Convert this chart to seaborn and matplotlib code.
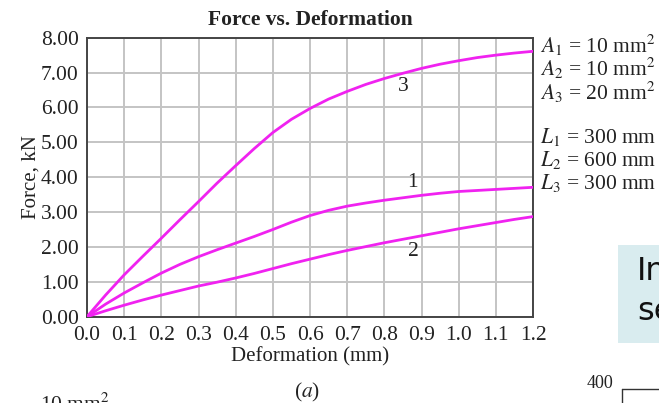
import matplotlib
matplotlib.use("Agg")
import matplotlib.pyplot as plt
import seaborn as sns
import pandas as pd
from matplotlib.patches import Rectangle

# ---- data ----
deformation = [0.0, 0.05, 0.1, 0.15, 0.2, 0.25, 0.3, 0.35, 0.4, 0.45, 0.5, 0.55,
               0.6, 0.65, 0.7, 0.75, 0.8, 0.85, 0.9, 0.95, 1.0, 1.05, 1.1, 1.15, 1.2]
force_1 = [0.0, 0.36, 0.68, 0.97, 1.25, 1.50, 1.72, 1.92, 2.11, 2.30, 2.50, 2.71,
           2.90, 3.05, 3.17, 3.26, 3.34, 3.41, 3.48, 3.54, 3.59, 3.62, 3.65, 3.68, 3.71]
force_2 = [0.0, 0.17, 0.33, 0.48, 0.62, 0.75, 0.88, 0.99, 1.11, 1.24, 1.38, 1.52,
           1.65, 1.78, 1.90, 2.01, 2.12, 2.22, 2.32, 2.42, 2.52, 2.61, 2.70, 2.79, 2.87]
force_3 = [0.0, 0.62, 1.20, 1.73, 2.25, 2.78, 3.30, 3.83, 4.33, 4.82, 5.28, 5.66,
           5.97, 6.24, 6.46, 6.66, 6.83, 6.98, 7.12, 7.24, 7.34, 7.43, 7.50, 7.56, 7.61]
curve_names = ["1", "2", "3"]
label_pos_x = [0.875, 0.878, 0.85]
label_pos_y = [3.86, 1.88, 6.6]
x_ticks = [0.0, 0.1, 0.2, 0.3, 0.4, 0.5, 0.6, 0.7, 0.8, 0.9, 1.0, 1.1, 1.2]
y_ticks = [0, 1, 2, 3, 4, 5, 6, 7, 8]
side_notes = ["$A_1$ = 10 mm$^2$", "$A_2$ = 10 mm$^2$", "$A_3$ = 20 mm$^2$",
              "$L_1$ = 300 mm", "$L_2$ = 600 mm", "$L_3$ = 300 mm"]

df = pd.concat([
    pd.DataFrame({"Deformation": deformation, "Force": f, "curve": n})
    for f, n in zip([force_1, force_2, force_3], curve_names)
], ignore_index=True)

sns.set_style("white")
plt.rcParams["font.family"] = ["Liberation Serif", "DejaVu Serif"]
plt.rcParams["mathtext.fontset"] = "stix"

W, H = 659, 403
fig = plt.figure(figsize=(W / 100, H / 100), dpi=100)
ax = fig.add_axes([87 / W, 1 - 316.7 / H, (533 - 87) / W, (316.7 - 37.7) / H])

sns.lineplot(data=df, x="Deformation", y="Force", hue="curve",
             palette=["#f022f0"] * 3, estimator=None, sort=False,
             legend=False, linewidth=2.0, ax=ax, zorder=3)

ax.set_xlim(0, 1.2)
ax.set_ylim(0, 8)
ax.set_xticks(x_ticks)
ax.set_xticklabels([f"{v:.1f}" for v in x_ticks])
ax.set_yticks(y_ticks)
ax.set_yticklabels([f"{v:.2f}" for v in y_ticks])
ax.grid(True, color="#c4c4c4", linewidth=1.4)
ax.set_axisbelow(True)
for s in ax.spines.values():
    s.set_visible(True)
    s.set_color("#444444")
    s.set_linewidth(1.4)
ax.tick_params(length=0, labelsize=15.5, colors="#222222")
ax.tick_params(axis="x", pad=7)
ax.tick_params(axis="y", pad=6)
ax.set_xlabel("Deformation (mm)", fontsize=15, color="#222222", labelpad=1)
ax.set_ylabel("Force, kN", fontsize=15, color="#222222", labelpad=0)
ax.set_title("Force vs. Deformation", fontsize=15.5, fontweight="bold",
             color="#222222", pad=9)

for n, lx, ly in zip(curve_names, label_pos_x, label_pos_y):
    ax.text(lx, ly, n, fontsize=15.5, color="#222222", ha="center", va="center")

note_y = [45, 68, 92, 137, 160, 183]
for t, yy in zip(side_notes, note_y):
    fig.text(540 / W, 1 - yy / H, t, fontsize=15.5, color="#222222",
             ha="left", va="center")

fig.text(307 / W, 1 - 392 / H, "($a$)", fontsize=15.5, color="#222222",
         ha="center", va="center")

# slide fragments around the chart
fig.patches.append(Rectangle((618 / W, 1 - 343 / H), 60 / W, 98 / H,
                             transform=fig.transFigure, facecolor="#d9ecef",
                             edgecolor="none", zorder=0))
fig.text(637 / W, 1 - 272 / H, "In", fontsize=23, family="DejaVu Sans",
         color="#111111", ha="left", va="center")
fig.text(637 / W, 1 - 312 / H, "se", fontsize=23, family="DejaVu Sans",
         color="#111111", ha="left", va="center")
fig.text(613 / W, 1 - 383 / H, "400", fontsize=13, color="#222222",
         ha="right", va="center")
fig.lines.append(plt.Line2D([622 / W, 700 / W, ], [1 - 389 / H, 1 - 389 / H],
                            transform=fig.transFigure, color="#333333", lw=1))
fig.lines.append(plt.Line2D([622 / W, 622 / W], [1 - 389 / H, 0],
                            transform=fig.transFigure, color="#333333", lw=1))
fig.text(40 / W, 1 - 394 / H, "10 mm$^2$", fontsize=15.5, color="#222222",
         ha="left", va="top")

fig.savefig("out.png", dpi=100)
